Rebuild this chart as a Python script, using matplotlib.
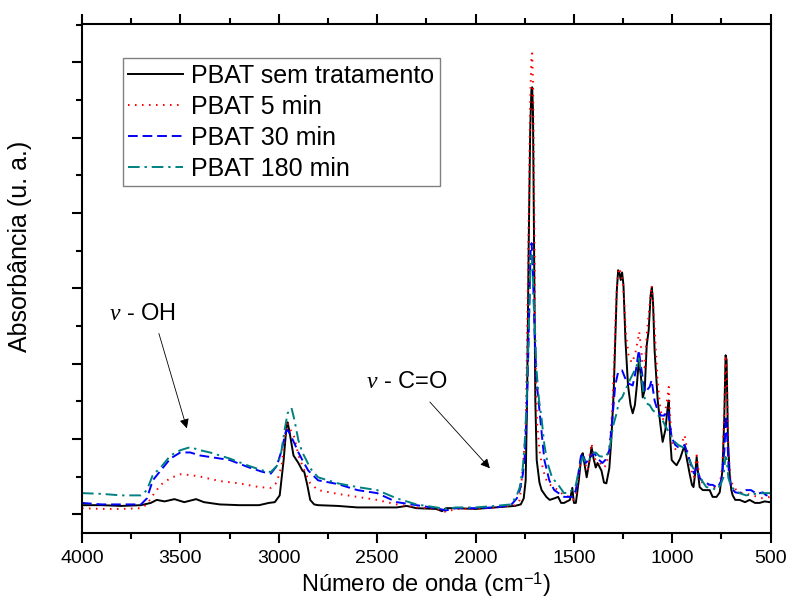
import numpy as np
import matplotlib.pyplot as plt
from matplotlib.ticker import MultipleLocator, NullFormatter

plt.rcParams['font.family'] = ['Liberation Sans', 'DejaVu Sans']
plt.rcParams['mathtext.fontset'] = 'custom'
plt.rcParams['mathtext.rm'] = 'Liberation Sans'
plt.rcParams['mathtext.it'] = 'Liberation Serif:italic'

# PBAT sem tratamento (wavenumber, absorbance u.a.)
wn_ref = [4000, 3900, 3800, 3700, 3650, 3620, 3580, 3530, 3480, 3420, 3380, 3300, 3200, 3100,
          3050, 3020, 2995, 2975, 2960, 2955, 2945, 2925, 2900, 2880, 2870, 2855, 2840, 2820,
          2800, 2700, 2600, 2500, 2400, 2350, 2300, 2200, 2170, 2150, 2100, 2000, 1900, 1800,
          1770, 1755, 1745, 1738, 1730, 1722, 1716, 1712, 1708, 1702, 1696, 1689, 1675, 1664,
          1640, 1623, 1600, 1580, 1565, 1550, 1520, 1508, 1500, 1490, 1475, 1462, 1455, 1445,
          1435, 1420, 1410, 1400, 1389, 1380, 1360, 1347, 1335, 1320, 1310, 1298, 1290, 1282,
          1275, 1268, 1262, 1255, 1248, 1238, 1225, 1212, 1201, 1190, 1180, 1170, 1160, 1150,
          1140, 1130, 1120, 1110, 1104, 1098, 1090, 1074, 1060, 1049, 1035, 1025, 1018, 1010,
          1003, 990, 978, 960, 945, 937, 925, 912, 900, 892, 882, 876, 868, 861, 845, 825, 810,
          795, 775, 759, 745, 736, 729, 724, 717, 708, 700, 693, 680, 658, 630, 607, 580, 556,
          530, 505, 500]
ab_ref = [0.12, 0.12, 0.11, 0.12, 0.15, 0.19, 0.17, 0.20, 0.16, 0.20, 0.16, 0.13, 0.12, 0.12,
          0.15, 0.16, 0.25, 0.72, 1.18, 1.22, 1.09, 0.78, 0.68, 0.58, 0.56, 0.39, 0.19, 0.13,
          0.12, 0.11, 0.09, 0.09, 0.09, 0.11, 0.08, 0.07, 0.04, 0.08, 0.08, 0.07, 0.09, 0.11,
          0.13, 0.21, 0.45, 1.51, 3.51, 5.10, 5.63, 5.67, 5.37, 3.51, 1.51, 0.72, 0.42, 0.32,
          0.23, 0.19, 0.21, 0.23, 0.15, 0.15, 0.19, 0.35, 0.15, 0.15, 0.45, 0.78, 0.81, 0.65,
          0.49, 0.72, 0.89, 0.74, 0.62, 0.68, 0.58, 0.42, 0.41, 0.61, 0.98, 1.61, 2.31, 2.97,
          3.24, 3.20, 3.11, 3.21, 3.04, 2.31, 1.71, 1.45, 1.34, 1.45, 1.71, 2.05, 1.85, 1.55,
          1.65, 2.24, 2.44, 2.91, 3.01, 2.83, 2.18, 1.51, 1.18, 0.96, 1.12, 1.38, 1.51, 0.98,
          0.72, 0.68, 0.65, 0.74, 0.86, 0.89, 0.72, 0.54, 0.39, 0.36, 0.58, 0.76, 0.52, 0.36,
          0.32, 0.32, 0.32, 0.23, 0.23, 0.29, 0.58, 1.25, 2.11, 2.05, 0.98, 0.52, 0.32, 0.25,
          0.19, 0.19, 0.16, 0.19, 0.15, 0.15, 0.17, 0.16, 0.16]

# PBAT 5 min
wn_5 = [4000, 3900, 3800, 3700, 3670, 3640, 3600, 3550, 3500, 3450, 3400, 3300, 3200, 3100,
        3040, 3010, 2985, 2965, 2955, 2940, 2920, 2900, 2880, 2860, 2840, 2800, 2700, 2600,
        2500, 2400, 2300, 2200, 2150, 2100, 2000, 1900, 1800, 1775, 1762, 1745, 1737, 1730,
        1722, 1716, 1712, 1707, 1702, 1696, 1688, 1675, 1664, 1645, 1630, 1600, 1580, 1550,
        1520, 1505, 1490, 1475, 1460, 1445, 1430, 1420, 1410, 1400, 1390, 1370, 1350, 1335,
        1320, 1305, 1295, 1285, 1276, 1268, 1260, 1252, 1245, 1235, 1222, 1206, 1190, 1175,
        1168, 1160, 1150, 1140, 1128, 1115, 1105, 1098, 1088, 1075, 1060, 1045, 1030, 1018,
        1010, 1000, 980, 955, 937, 920, 900, 890, 876, 862, 845, 820, 800, 780, 760, 745, 736,
        729, 722, 715, 705, 690, 660, 620, 580, 540, 505, 500]
ab_5 = [0.08, 0.07, 0.07, 0.08, 0.13, 0.25, 0.39, 0.48, 0.53, 0.52, 0.50, 0.44, 0.41, 0.36,
        0.35, 0.42, 0.65, 1.12, 1.21, 1.12, 1.02, 0.78, 0.65, 0.52, 0.41, 0.32, 0.27, 0.23,
        0.19, 0.13, 0.09, 0.07, 0.03, 0.07, 0.07, 0.09, 0.12, 0.19, 0.54, 1.12, 2.44, 3.90,
        5.50, 6.03, 6.12, 5.63, 4.17, 2.18, 1.25, 0.85, 0.68, 0.48, 0.41, 0.35, 0.32, 0.25,
        0.23, 0.19, 0.25, 0.52, 0.78, 0.69, 0.58, 0.78, 0.94, 0.78, 0.72, 0.69, 0.62, 0.65,
        0.85, 1.38, 2.05, 2.84, 3.21, 3.27, 3.17, 3.11, 2.84, 2.38, 2.11, 2.01, 2.11, 2.31,
        2.42, 2.24, 1.98, 1.95, 2.44, 2.78, 3.04, 2.84, 2.38, 1.78, 1.38, 1.25, 1.45, 1.69,
        1.25, 0.92, 0.85, 0.92, 1.05, 0.78, 0.56, 0.49, 0.78, 0.48, 0.41, 0.40, 0.36, 0.35,
        0.36, 0.65, 1.38, 2.11, 1.78, 0.85, 0.48, 0.36, 0.29, 0.27, 0.24, 0.21, 0.23, 0.23]

# PBAT 30 min
wn_30 = [4000, 3900, 3800, 3700, 3670, 3640, 3600, 3550, 3500, 3450, 3400, 3350, 3250, 3150,
         3080, 3040, 3010, 2985, 2965, 2955, 2940, 2920, 2900, 2880, 2850, 2800, 2700, 2600,
         2500, 2400, 2300, 2200, 2150, 2100, 2000, 1900, 1820, 1790, 1775, 1760, 1750, 1742,
         1735, 1728, 1720, 1715, 1710, 1700, 1690, 1675, 1660, 1650, 1625, 1600, 1550, 1520,
         1505, 1490, 1475, 1465, 1455, 1440, 1420, 1398, 1380, 1355, 1340, 1320, 1305, 1290,
         1275, 1255, 1240, 1226, 1201, 1185, 1170, 1160, 1140, 1128, 1115, 1105, 1090, 1075,
         1057, 1040, 1022, 1003, 985, 970, 950, 937, 912, 890, 875, 860, 850, 810, 795, 770,
         750, 735, 727, 720, 712, 700, 680, 658, 625, 600, 570, 540, 522, 500]
ab_30 = [0.15, 0.13, 0.13, 0.13, 0.21, 0.45, 0.58, 0.74, 0.82, 0.82, 0.78, 0.76, 0.72, 0.62,
         0.56, 0.54, 0.64, 0.85, 1.09, 1.12, 1.05, 0.94, 0.82, 0.72, 0.58, 0.45, 0.40, 0.32,
         0.28, 0.16, 0.12, 0.08, 0.05, 0.08, 0.08, 0.09, 0.12, 0.21, 0.32, 0.52, 0.76, 1.25,
         1.78, 2.58, 3.51, 3.60, 3.37, 2.44, 1.78, 1.38, 0.98, 0.72, 0.45, 0.32, 0.23, 0.23,
         0.23, 0.32, 0.58, 0.76, 0.81, 0.68, 0.74, 0.82, 0.74, 0.68, 0.72, 0.85, 1.25, 1.71,
         1.89, 1.91, 1.81, 1.74, 1.71, 1.91, 2.18, 1.98, 1.62, 1.65, 1.69, 1.78, 1.51, 1.38,
         1.31, 1.31, 1.38, 1.02, 0.92, 0.89, 0.90, 0.92, 0.72, 0.54, 0.62, 0.48, 0.45, 0.39,
         0.39, 0.35, 0.45, 0.85, 1.31, 0.98, 0.52, 0.35, 0.29, 0.28, 0.32, 0.32, 0.27, 0.29,
         0.25, 0.27]

# PBAT 180 min
wn_180 = [4000, 3900, 3800, 3700, 3670, 3640, 3600, 3550, 3500, 3450, 3400, 3350, 3250, 3150,
          3080, 3040, 3010, 2990, 2970, 2955, 2935, 2920, 2900, 2880, 2860, 2840, 2800, 2700,
          2600, 2500, 2400, 2300, 2200, 2150, 2100, 2000, 1900, 1820, 1790, 1775, 1760, 1750,
          1742, 1735, 1728, 1720, 1715, 1710, 1700, 1690, 1677, 1665, 1650, 1634, 1610, 1585,
          1550, 1520, 1490, 1475, 1460, 1455, 1440, 1423, 1400, 1389, 1370, 1338, 1320, 1300,
          1283, 1270, 1255, 1235, 1216, 1195, 1180, 1170, 1160, 1145, 1130, 1115, 1099, 1080,
          1065, 1050, 1033, 1015, 995, 970, 947, 930, 912, 896, 875, 850, 827, 800, 775, 755,
          740, 730, 724, 715, 700, 658, 625, 580, 540, 522, 500]
ab_180 = [0.28, 0.27, 0.25, 0.25, 0.32, 0.52, 0.62, 0.78, 0.85, 0.89, 0.85, 0.82, 0.74, 0.64,
          0.58, 0.56, 0.64, 0.78, 1.12, 1.34, 1.41, 1.25, 0.98, 0.82, 0.72, 0.61, 0.49, 0.41,
          0.36, 0.32, 0.21, 0.13, 0.09, 0.07, 0.09, 0.09, 0.11, 0.13, 0.25, 0.36, 0.61, 0.94,
          1.38, 1.91, 2.58, 3.35, 3.44, 3.27, 2.58, 1.91, 1.51, 1.29, 0.92, 0.68, 0.48, 0.41,
          0.28, 0.29, 0.39, 0.58, 0.72, 0.76, 0.69, 0.72, 0.81, 0.82, 0.77, 0.76, 0.85, 1.18,
          1.34, 1.51, 1.55, 1.67, 1.78, 1.89, 1.98, 2.07, 1.91, 1.58, 1.47, 1.45, 1.38, 1.34,
          1.29, 1.25, 1.16, 1.08, 0.98, 0.92, 0.89, 0.82, 0.72, 0.62, 0.56, 0.45, 0.36, 0.35,
          0.32, 0.39, 0.49, 0.76, 0.74, 0.48, 0.36, 0.28, 0.25, 0.27, 0.28, 0.28, 0.28]

fig = plt.figure(figsize=(7.88, 6.04), dpi=100)
ax = fig.add_axes([0.104, 0.1175, 0.874, 0.8428])

ax.plot(wn_ref, ab_ref, color='black', lw=1.4, label='PBAT sem tratamento')
ax.plot(wn_5, ab_5, color='red', lw=1.4, ls=(0, (0.8, 2.8)), label='PBAT 5 min')
ax.plot(wn_30, ab_30, color='blue', lw=1.4, ls=(0, (5, 2.5)), label='PBAT 30 min')
ax.plot(wn_180, ab_180, color='#008080', lw=1.4, ls=(0, (6, 2.5, 1.2, 2.5)), label='PBAT 180 min')

ax.set_xlim(4000, 500)
ax.set_ylim(-0.25, 6.51)
ax.xaxis.set_major_locator(MultipleLocator(500))
ax.xaxis.set_minor_locator(MultipleLocator(250))
ax.yaxis.set_major_locator(MultipleLocator(1))
ax.yaxis.set_minor_locator(MultipleLocator(0.5))
ax.yaxis.set_major_formatter(NullFormatter())

ax.tick_params(which='both', direction='out', top=True, right=False, labeltop=False,
               width=1.5, labelsize=14, pad=5)
ax.tick_params(which='major', length=7.5)
ax.tick_params(which='minor', length=4)
for s in ax.spines.values():
    s.set_linewidth(1.5)

ax.set_xlabel('Número de onda (cm$^{-1}$)', fontsize=17, labelpad=2)
ax.set_ylabel('Absorbância (u. a.)', fontsize=18)
ax.yaxis.set_label_coords(-0.0726, 0.564)

# band labels and arrows
ax.text(3695, 2.66, r'$\nu$ - OH', fontsize=17, ha='center', va='center')
ax.annotate('', xy=(3467, 1.14), xytext=(3609, 2.40),
            arrowprops=dict(arrowstyle='-|>', color='black', lw=0.6, mutation_scale=14,
                            shrinkA=0, shrinkB=0))
ax.text(2347, 1.75, r'$\nu$ - C=O', fontsize=17, ha='center', va='center')
ax.annotate('', xy=(1927, 0.61), xytext=(2232, 1.49),
            arrowprops=dict(arrowstyle='-|>', color='black', lw=0.6, mutation_scale=14,
                            shrinkA=0, shrinkB=0))

leg = ax.legend(loc='upper left', bbox_to_anchor=(0.0595, 0.933), borderaxespad=0,
                fontsize=18, handlelength=2.2, handletextpad=0.3, labelspacing=0.28,
                borderpad=0.22, fancybox=False, framealpha=1)
leg.get_frame().set_edgecolor('#808080')
leg.get_frame().set_linewidth(1.0)

fig.savefig('out.png', dpi=100)
